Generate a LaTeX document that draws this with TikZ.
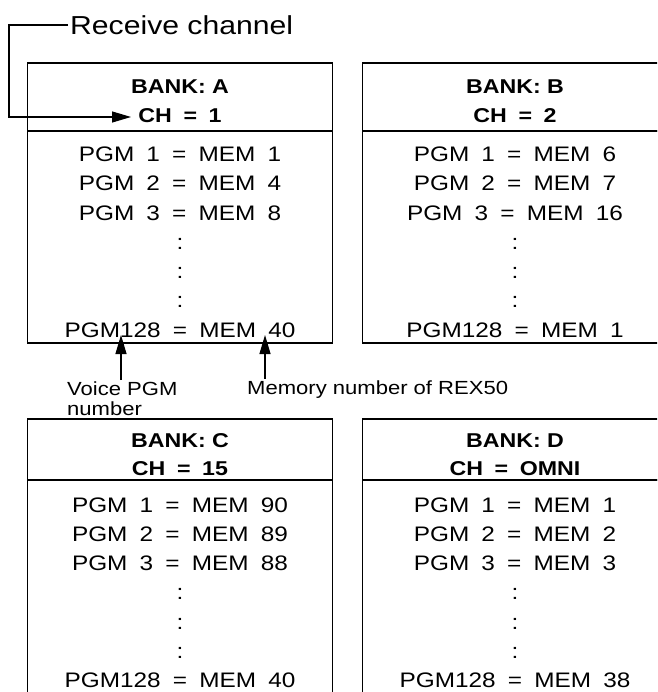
\documentclass[tikz,border=0pt]{standalone}
\usepackage{fontspec}
\setmainfont{Liberation Sans}[FakeStretch=1.16]
\newfontfamily\tabfont{Liberation Sans}[FakeStretch=1.16, WordSpace=1.8]
\usetikzlibrary{arrows.meta, positioning}

\begin{document}
\begin{tikzpicture}[x=1pt, y=-1pt,
    head/.style={rectangle, draw, line width=1.8pt, outer sep=0pt, minimum width=305pt, minimum height=68pt, align=center, font=\bfseries\fontsize{20}{28.5}\selectfont},
    body/.style={rectangle, draw, line width=1.8pt, outer sep=0pt, minimum width=305pt, minimum height=212pt, align=center, font=\tabfont\fontsize{21}{29.3}\selectfont},
    note/.style={inner sep=2pt, align=left, font=\fontsize{19}{20}\selectfont},
    conn/.style={line width=1.2pt, -{Triangle[length=19pt, width=11pt]}}
]
    \useasboundingbox (0,0) rectangle (657,692);
    \clip (0,0) rectangle (657,692);

    \node[head] (headA) at (180,97) {\rule{0pt}{22pt}BANK: A\\{\tabfont\bfseries CH = 1}};
    \node[body, below=0pt of headA] (bodyA) {\rule{0pt}{25pt}PGM 1 = MEM 1\\PGM 2 = MEM 4\\PGM 3 = MEM 8\\:\\:\\:\\PGM128 = MEM 40};
    \node[head, right=30pt of headA] (headB) {\rule{0pt}{22pt}BANK: B\\{\tabfont\bfseries CH = 2}};
    \node[body, below=0pt of headB] (bodyB) {\rule{0pt}{25pt}PGM 1 = MEM 6\\PGM 2 = MEM 7\\PGM 3 = MEM 16\\:\\:\\:\\PGM128 = MEM 1};
    \node[head, minimum height=61pt, below=76pt of bodyA] (headC) {\rule{0pt}{24pt}BANK: C\\{\tabfont\bfseries CH = 15}};
    \node[body, minimum height=215pt, below=0pt of headC] (bodyC) {\rule{0pt}{25pt}PGM 1 = MEM 90\\PGM 2 = MEM 89\\PGM 3 = MEM 88\\:\\:\\:\\PGM128 = MEM 40};
    \node[head, minimum height=61pt, right=30pt of headC] (headD) {\rule{0pt}{24pt}BANK: D\\{\tabfont\bfseries CH = OMNI}};
    \node[body, minimum height=215pt, below=0pt of headD] (bodyD) {\rule{0pt}{25pt}PGM 1 = MEM 1\\PGM 2 = MEM 2\\PGM 3 = MEM 3\\:\\:\\:\\PGM128 = MEM 38};

    \node[note, anchor=west, font=\fontsize{26}{28}\selectfont] (recv) at (68,25) {Receive channel};
    \node[note, anchor=north west] (voice) at (65,380) {Voice PGM\\number};
    \node[note, anchor=west] (memlbl) at (245,390) {Memory number of REX50};

    \coordinate (chA) at (131,117);
    \coordinate (pgmtip) at (121,335);
    \coordinate (memtip) at (265,335);

    \draw[conn] (recv.west) -- ++(-59,0) |- (chA);
    \draw[conn] (voice.north -| pgmtip) -- (pgmtip);
    \draw[conn] (memlbl.north -| memtip) -- (memtip);
\end{tikzpicture}
\end{document}
